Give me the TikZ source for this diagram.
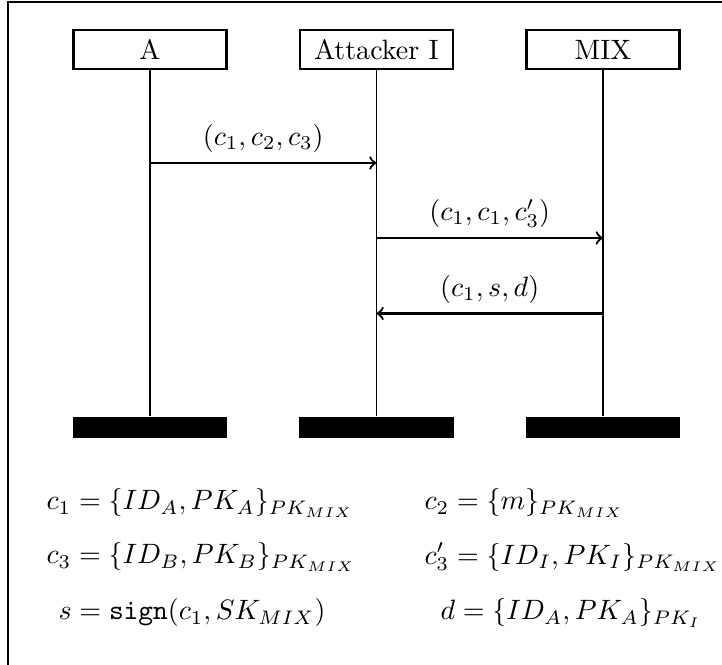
\documentclass[tikz,border=0pt]{standalone}
\begin{document}
\begin{tikzpicture}[x=0.357pt,y=-0.357pt,
  actor/.style={draw, thick, minimum width=54.6pt, minimum height=13.9pt, inner sep=0pt},
  endbar/.style={fill=black, minimum width=55pt, minimum height=7.5pt, inner sep=0pt},
  life/.style={thin},
  msg/.style={thick,->},
  eq/.style={anchor=west, inner sep=0pt}]
\useasboundingbox (0,0) rectangle (722,665);
% frame
\draw[semithick] (8,700) -- (8,2) -- (760,2);

% participants
\node[actor] (A) at (150,49.5) {A};
\node[actor] (I) at (376.5,49.5) {Attacker I};
\node[actor] (M) at (603,49.5) {MIX};

% end bars
\node[endbar] (Ae) at (150,427.5) {};
\node[endbar] (Ie) at (376.5,427.5) {};
\node[endbar] (Me) at (603,427.5) {};

% lifelines
\draw[life] (A.south) -- (Ae.north);
\draw[life] (I.south) -- (Ie.north);
\draw[life] (M.south) -- (Me.north);

% messages
\coordinate (y1) at (0,163);
\coordinate (y2) at (0,238);
\coordinate (y3) at (0,313.5);
\draw[msg] (A |- y1) -- node[above] {$(c_1, c_2, c_3)$} (I |- y1);
\draw[msg] (I |- y2) -- node[above] {$(c_1, c_1, c_3')$} (M |- y2);
\draw[msg] (M |- y3) -- node[above] {$(c_1, s, d)$} (I |- y3);

% definitions
\node[eq] (e1) at (46,503) {$c_1 = \{ID_A, PK_A\}_{PK_{MIX}}$};
\node[eq] (e2) at (424,503) {$c_2 = \{m\}_{PK_{MIX}}$};
\node[eq] (e3) at (46,557) {$c_3 = \{ID_B, PK_B\}_{PK_{MIX}}$};
\node[eq] (e4) at (424,557) {$c_3' = \{ID_I, PK_I\}_{PK_{MIX}}$};
\node[eq] (e5) at (58,613) {$s = \mathtt{sign}(c_1, SK_{MIX})$};
\node[eq] (e6) at (440,613) {$d = \{ID_A, PK_A\}_{PK_I}$};
\end{tikzpicture}
\end{document}
